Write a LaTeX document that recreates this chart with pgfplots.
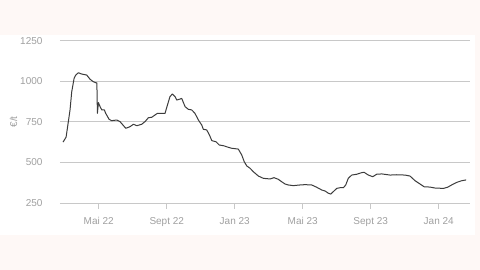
\documentclass[border=0pt]{standalone}
\usepackage{pgfplots}
\pgfplotsset{compat=1.18}
\usepackage{fontspec}
\setmainfont{Liberation Sans}
\definecolor{pinkbg}{HTML}{FEF8F6}
\definecolor{gridc}{HTML}{C8C8C8}
\definecolor{labc}{HTML}{A0A0A0}
\definecolor{linec}{HTML}{3C3C3C}
\begin{document}
\begin{tikzpicture}[x=1pt,y=1pt]
\fill[pinkbg] (0,0) rectangle (480,270);
\useasboundingbox (0,0) rectangle (480,270);
\fill[white] (0,35) rectangle (475,235);
\begin{axis}[
  at={(60pt,67pt)}, anchor=south west,
  scale only axis, width=410pt, height=162.4pt,
  xmin=1.72, xmax=25.84, ymin=250, ymax=1250,
  axis line style={draw=none},
  ytick={250,500,750,1000,1250},
  ymajorgrids, grid style={gridc, line width=0.9pt},
  ytick style={draw=none},
  xtick={4,8,12,16,20,24},
  xticklabels={Mai 22,Sept 22,Jan 23,Mai 23,Sept 23,Jan 24},
  xtick style={draw=gridc, line width=0.9pt},
  tick align=outside, major tick length=6pt,
  xtick pos=bottom,
  tick label style={font=\fontsize{10}{11}\selectfont, text=labc},
  /pgf/number format/assume math mode=true,
  /pgf/number format/1000 sep={},
  yticklabel style={xshift=-8pt},
  xticklabel style={yshift=-5pt},
  ylabel={€/t}, ylabel style={font=\fontsize{10}{11}\selectfont, text=labc, at={(axis description cs:-0.113,0.5)}, anchor=center},
]
\addplot[linec, line width=1pt, line join=round] coordinates {
(1.90,625) (2.08,656) (2.31,823) (2.41,935) (2.55,1018) (2.65,1038) (2.80,1052)
(3.00,1044) (3.29,1038) (3.49,1012) (3.68,997) (3.82,991) (3.89,989) (3.92,802)
(3.98,868) (4.08,843) (4.18,823) (4.33,823) (4.41,802) (4.61,765) (4.76,757)
(5.06,761) (5.25,751) (5.59,710) (5.84,720) (6.04,735) (6.24,726) (6.53,735)
(6.72,751) (6.92,775) (7.12,778) (7.31,792) (7.45,802) (7.90,802) (8.04,853)
(8.19,905) (8.33,921) (8.49,905) (8.59,884) (8.78,890) (8.88,894) (9.08,843)
(9.27,827) (9.47,823) (9.66,802) (9.86,761) (10.06,730) (10.15,704) (10.35,700)
(10.51,669) (10.65,634) (10.90,627) (11.09,607) (11.33,603) (11.62,593) (11.82,587)
(12.21,582) (12.41,546) (12.56,504) (12.71,478) (12.90,464) (13.09,443) (13.39,416)
(13.68,402) (14.08,398) (14.31,406) (14.56,396) (14.76,381) (14.96,367) (15.15,361)
(15.45,357) (15.84,361) (16.14,363) (16.53,361) (16.82,347) (17.12,330) (17.31,324)
(17.51,310) (17.65,305) (17.80,320) (18.00,340) (18.19,344) (18.39,344) (18.53,361)
(18.68,402) (18.88,422) (19.18,427) (19.47,437) (19.61,439) (19.86,422) (20.12,412)
(20.35,427) (20.65,429) (21.14,422) (21.53,424) (22.02,422) (22.31,416) (22.61,387)
(22.90,367) (23.14,350) (23.49,348) (23.79,342) (24.28,340) (24.52,347) (24.76,361)
(25.06,377) (25.35,387) (25.61,392)
};
\end{axis}
\end{tikzpicture}
\end{document}
